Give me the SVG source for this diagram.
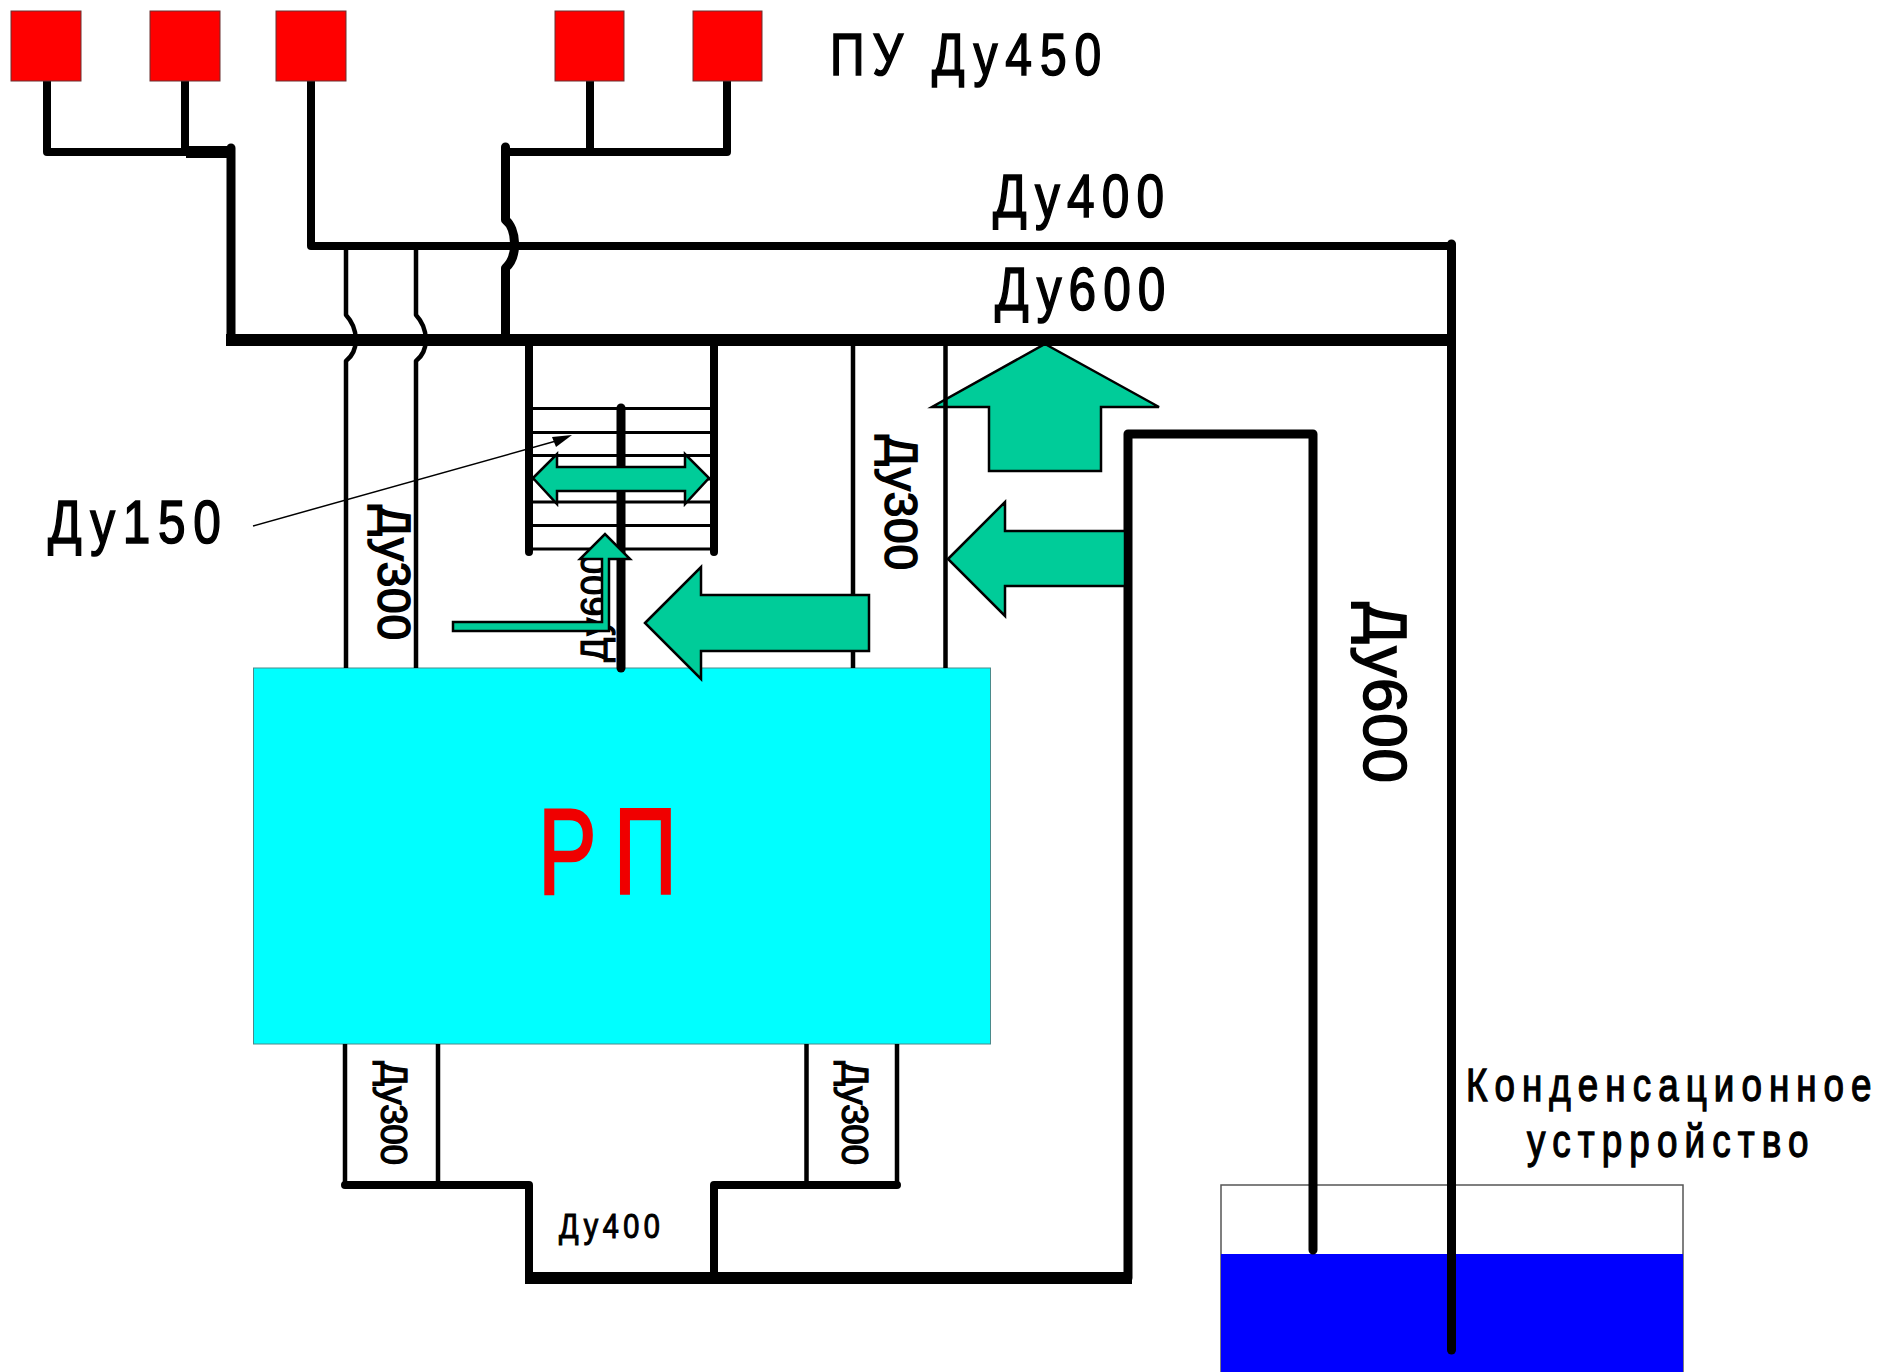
<svg xmlns="http://www.w3.org/2000/svg" width="1884" height="1372" viewBox="0 0 1884 1372">
<style>
text{font-family:"Liberation Sans",Arial,sans-serif;fill:#000;stroke:#000;stroke-width:1.6}
.arrow{fill:#00CC99;stroke:#000;stroke-width:2.5;stroke-linejoin:miter}
.pu{fill:#FF0000;stroke:#6b3030;stroke-width:1}
.p7,.p9{fill:none;stroke:#000;stroke-linecap:round;stroke-linejoin:round}
.p11{fill:none;stroke:#000;stroke-linecap:butt;stroke-width:12}
.p2{fill:none;stroke:#000;stroke-width:3}
.p4{fill:none;stroke:#000;stroke-width:4.500;stroke-linejoin:round}
.p7{stroke-width:8}.p9{stroke-width:9}
</style>
<rect width="1884" height="1372" fill="#fff"/>
<g id="arrow-up"><polygon class="arrow" points="1045,344 1159,407 1101,407 1101,471 989,471 989,407 932,407"/></g>
<g id="tank">
<rect x="1221" y="1185" width="462" height="200" fill="#fff" stroke="#555" stroke-width="1.5"/>
<rect x="1221" y="1254" width="462" height="130" fill="#0000FF"/>
</g>
<g id="reactor"><rect x="253.500" y="668" width="737" height="376" fill="#00FFFF" stroke="#4a8a8a" stroke-width="1"/>
<text transform="translate(538,894) scale(.72,1)" font-size="122" textLength="193" style="fill:#F00000;stroke:#F00000;stroke-width:2.5">Р П</text></g>
<g id="connectors">
<path class="p7" d="M47,81V152H186M185,81V152M311,81V246H1452M590,81V152M727,81V152H505"/>
<path class="p11" d="M186,152H231"/>
<path class="p9" d="M231,148V340"/>
<path class="p11" d="M226,340H1456"/>
<path class="p9" d="M505.500,147V220C516,228 519,256 505.500,268V340"/>
<path class="p4" d="M346,246V315C358,328 360,350 346,361V668M416,246V315C428,328 430,350 416,361V668"/>
<path class="p9" d="M1451.500,244V1350"/>
<path class="p4" d="M853,340V668M945.500,340V668"/>
<path class="p7" d="M529,340V552M714,340V552"/>
<path class="p2" d="M529,408.500H714M529,432.500H714M529,455.500H714M529,479H714M529,502H714M529,525.500H714M529,549H714"/>
<path class="p9" d="M621,408V668"/>
<path d="M253,526L556,441" fill="none" stroke="#000" stroke-width="1.500"/>
<polygon points="572,435 552,437 556,447" fill="#000"/>
<path class="p4" d="M345,1044V1185M438,1044V1185M806.500,1044V1185M897,1044V1185"/>
<path class="p7" d="M345,1185H529V1278M714,1278V1185H897"/>
<path class="p9" d="M1128,434V1278M1128,434H1313V1250"/>
<path class="p11" d="M525,1278H1132"/>
</g>
<g id="pu-1"><rect class="pu" x="11" y="11" width="70" height="70"/></g>
<g id="pu-2"><rect class="pu" x="150" y="11" width="70" height="70"/></g>
<g id="pu-3"><rect class="pu" x="276" y="11" width="70" height="70"/></g>
<g id="pu-4"><rect class="pu" x="555" y="11" width="69" height="70"/></g>
<g id="pu-5"><rect class="pu" x="693" y="11" width="69" height="70"/></g>
<g id="labels">
<text transform="translate(830,75) scale(.8,1)" font-size="60" textLength="339">ПУ Ду450</text>
<text transform="translate(993,217) scale(.8,1)" font-size="62" textLength="214">Ду400</text>
<text transform="translate(995,310) scale(.8,1)" font-size="62" textLength="213">Ду600</text>
<text transform="translate(48,543) scale(.8,1)" font-size="62" textLength="216">Ду150</text>
<text transform="translate(378,505) rotate(90)" font-size="46" textLength="135">Ду300</text>
<text transform="translate(885,435) rotate(90)" font-size="46" textLength="135">Ду300</text>
<text transform="translate(1364,602) rotate(90)" font-size="62" textLength="181">Ду600</text>
<text transform="translate(381,1061) rotate(90)" font-size="37" textLength="104" style="stroke-width:1.2">Ду300</text>
<text transform="translate(842,1061) rotate(90)" font-size="37" textLength="104" style="stroke-width:1.2">Ду300</text>
<text transform="translate(559,1238) scale(.8,1)" font-size="36" textLength="126" style="stroke-width:1.2">Ду400</text>
<text transform="translate(1466,1101) scale(.8,1)" font-size="46" textLength="507" style="stroke-width:1.3">Конденсационное</text>
<text transform="translate(1527,1157) scale(.8,1)" font-size="46" textLength="352" style="stroke-width:1.3">устрройство</text>
<text transform="translate(607,662) rotate(-90)" font-size="36" textLength="108" style="stroke-width:1.2">Ду600</text>
</g>
<g id="arrow-left-small"><polygon class="arrow" points="453,622 602,622 602,559 580,559 605,534 630,559 609,559 609,631 453,631"/></g>
<g id="arrow-double"><polygon class="arrow" points="533,478 557,454 557,467 685,467 685,454 709,478 685,504 685,491 557,491 557,504"/></g>
<g id="arrow-big"><polygon class="arrow" points="645,623 701,567 701,595 869,595 869,651 701,651 701,679"/></g>
<g id="arrow-left"><polygon class="arrow" points="948,559 1005,502 1005,531 1125,531 1125,586 1005,586 1005,616"/></g>
</svg>
